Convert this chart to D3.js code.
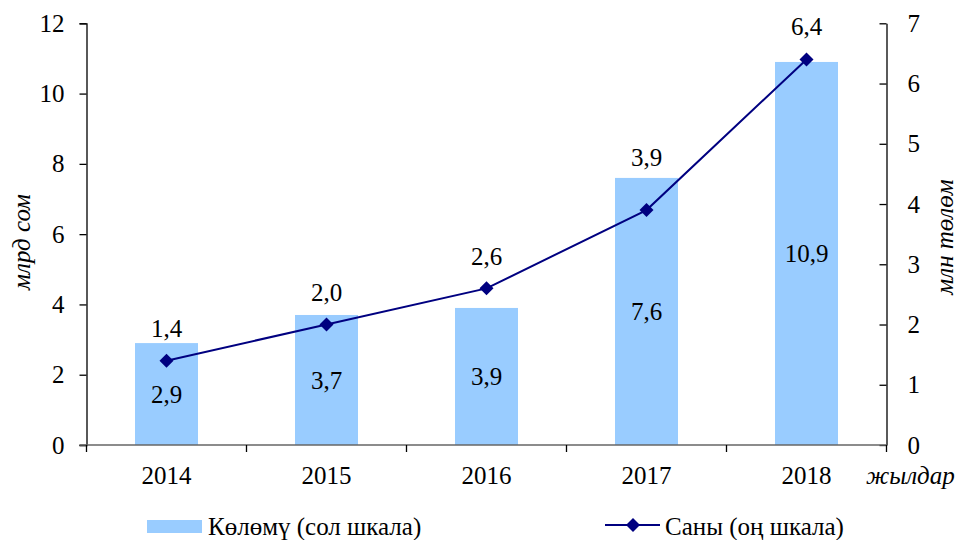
<!DOCTYPE html>
<html>
<head>
<meta charset="utf-8">
<script src="https://cdn.jsdelivr.net/npm/d3@7"></script>
<style>
  html, body { margin: 0; padding: 0; background: #fff; }
  svg text { font-family: "Liberation Serif", "Times New Roman", "DejaVu Serif", serif !important; fill: #000; }
</style>
</head>
<body>
<svg id="chart" width="957" height="540"></svg>
<script>
// Data
const years = ["2014", "2015", "2016", "2017", "2018"];
const volume = [2.9, 3.7, 3.9, 7.6, 10.9];      // млрд сом (left axis)
const count = [1.4, 2.0, 2.6, 3.9, 6.4];        // млн төлөм (right axis)
const leftTicks = [0, 2, 4, 6, 8, 10, 12];
const rightTicks = [0, 1, 2, 3, 4, 5, 6, 7];
const legendLabels = ["Көлөмү (сол шкала)", "Саны (оң шкала)"];

const fmt = v => d3.format(".1f")(v).replace(".", ",");

const svg = d3.select("#chart");
const plot = { left: 86.5, right: 886.5, top: 23.3, bottom: 445 };

const x = d3.scaleBand().domain(years).range([plot.left, plot.right]).paddingInner(0).paddingOuter(0);
const yL = d3.scaleLinear().domain([0, 12]).range([plot.bottom, plot.top]);
const yR = d3.scaleLinear().domain([0, 7]).range([plot.bottom, plot.top]);

const barW = 63;
const fontSize = 25;
// distance of each line label above its marker (2017 label sits clear of the bar top)
const labelLift = [32, 32, 32, 53, 33];

// Bars
svg.append("g").selectAll("rect").data(volume).join("rect")
  .attr("x", (d, i) => x(years[i]) + x.bandwidth() / 2 - barW / 2)
  .attr("y", d => yL(d))
  .attr("width", barW)
  .attr("height", d => yL(0) - yL(d))
  .attr("fill", "#99CCFF");

// Bar value labels centered in the bar
svg.append("g").selectAll("text").data(volume).join("text")
  .attr("x", (d, i) => x(years[i]) + x.bandwidth() / 2)
  .attr("y", d => (yL(d) + yL(0)) / 2)
  .attr("dy", "0.35em")
  .attr("text-anchor", "middle")
  .style("font-size", fontSize + "px")
  .text(fmt);

// Left axis
const axL = svg.append("g").attr("transform", `translate(${plot.left},0)`)
  .call(d3.axisLeft(yL).tickValues(leftTicks).tickSize(7).tickPadding(15).tickFormat(d3.format("d")))
  .attr("font-family", null).attr("font-size", null);
axL.select(".domain").attr("stroke", "#000").attr("stroke-width", 1.3);
axL.selectAll(".tick line").attr("stroke", "#000").attr("stroke-width", 1.3);
axL.selectAll(".tick text").style("font-size", fontSize + "px");

// Right axis (ticks pointing into the plot)
const axR = svg.append("g").attr("transform", `translate(${plot.right},0)`)
  .call(d3.axisRight(yR).tickValues(rightTicks).tickSize(0).tickPadding(21).tickFormat(d3.format("d")))
  .attr("font-family", null).attr("font-size", null);
axR.select(".domain").attr("stroke", "#000").attr("stroke-width", 1.3);
axR.selectAll(".tick line").attr("x1", -7).attr("x2", 0).attr("stroke", "#000").attr("stroke-width", 1.3);
axR.selectAll(".tick text").style("font-size", fontSize + "px");

// Category axis
const bounds = years.map(y => x(y)).concat([plot.right]);
svg.append("line")
  .attr("x1", plot.left - 7).attr("x2", plot.right)
  .attr("y1", plot.bottom).attr("y2", plot.bottom)
  .attr("stroke", "#666").attr("stroke-width", 1.5);
svg.append("g").selectAll("line").data(bounds).join("line")
  .attr("x1", d => d).attr("x2", d => d)
  .attr("y1", plot.bottom).attr("y2", plot.bottom + 7)
  .attr("stroke", "#000").attr("stroke-width", 1.3);
svg.append("g").selectAll("text").data(years).join("text")
  .attr("x", d => x(d) + x.bandwidth() / 2)
  .attr("y", 484)
  .attr("text-anchor", "middle")
  .style("font-size", fontSize + "px")
  .text(d => d);

// Axis titles
svg.append("text")
  .attr("transform", `translate(30,242) rotate(-90)`)
  .attr("text-anchor", "middle")
  .style("font-size", fontSize + "px").style("font-style", "italic")
  .text("млрд сом");
svg.append("text")
  .attr("transform", `translate(953,237) rotate(-90)`)
  .attr("text-anchor", "middle")
  .style("font-size", fontSize + "px").style("font-style", "italic")
  .text("млн төлөм");
svg.append("text")
  .attr("x", 866).attr("y", 484)
  .style("font-size", fontSize + "px").style("font-style", "italic")
  .text("жылдар");

// Line series
const cx = (d, i) => x(years[i]) + x.bandwidth() / 2;
const line = d3.line().x(cx).y(d => yR(d));
svg.append("path").datum(count)
  .attr("d", line)
  .attr("fill", "none")
  .attr("stroke", "#000080")
  .attr("stroke-width", 2);

const diamond = d3.symbol().type(d3.symbolSquare).size(98);
svg.append("g").selectAll("path").data(count).join("path")
  .attr("d", diamond)
  .attr("transform", (d, i) => `translate(${cx(d, i)},${yR(d)}) rotate(45)`)
  .attr("fill", "#000080");

// Line value labels above the markers
svg.append("g").selectAll("text").data(count).join("text")
  .attr("x", cx)
  .attr("y", (d, i) => yR(d) - labelLift[i])
  .attr("dy", "0.35em")
  .attr("text-anchor", "middle")
  .style("font-size", fontSize + "px")
  .text(fmt);

// Legend
const lg = svg.append("g");
lg.append("rect").attr("x", 147).attr("y", 520).attr("width", 55).attr("height", 13).attr("fill", "#99CCFF");
lg.append("text").attr("x", 208).attr("y", 535).style("font-size", fontSize + "px").text(legendLabels[0]);
lg.append("line").attr("x1", 605).attr("x2", 660).attr("y1", 525).attr("y2", 525)
  .attr("stroke", "#000080").attr("stroke-width", 2);
lg.append("path").attr("d", diamond).attr("transform", "translate(633,525) rotate(45)").attr("fill", "#000080");
lg.append("text").attr("x", 665).attr("y", 535).style("font-size", fontSize + "px").text(legendLabels[1]);
</script>
</body>
</html>
